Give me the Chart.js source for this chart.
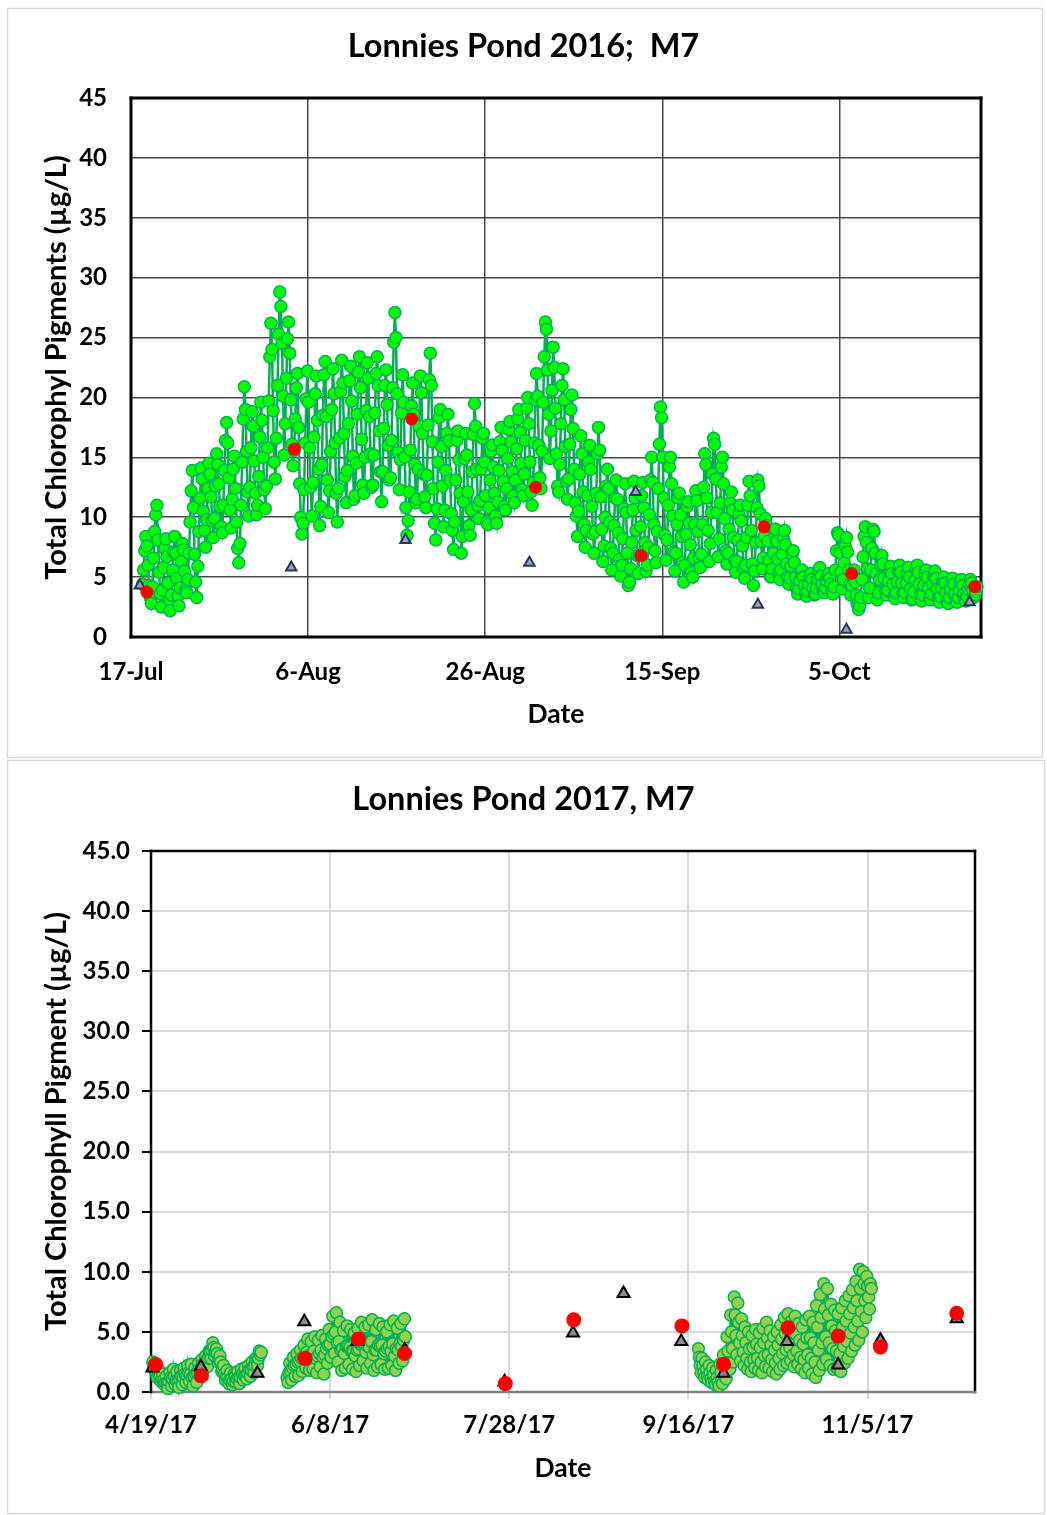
<!DOCTYPE html>
<html>
<head>
<meta charset="utf-8">
<script src="https://cdn.jsdelivr.net/npm/chart.js@4.4.1/dist/chart.umd.min.js"></script>
<style>
  html, body { margin: 0; padding: 0; background: #fff; }
  body { width: 1047px; height: 1515px; position: relative; overflow: hidden; }
  canvas { position: absolute; left: 0; }
  #c2016 { top: 0; }
  #c2017 { top: 759px; }
</style>
</head>
<body>
<canvas id="c2016" width="1047" height="759"></canvas>
<canvas id="c2017" width="1047" height="756"></canvas>
<script>
// ---- 2016 (x = days after 17-Jul) ----
const ticks2016 = ['17-Jul', '6-Aug', '26-Aug', '15-Sep', '5-Oct'];
const sondeStart2016 = 1.3;   // first sonde reading
const sondePerDay2016 = 8;    // readings per day (one row = one day)
const sonde2016 = [
  4.4, 5.6, 7.2, 8.4, 7.6, 6.0, 4.3, 3.3,
  2.8, 4.2, 6.6, 8.8, 10.2, 11.0, 8.1, 5.4,
  3.6, 2.5, 3.9, 5.8, 7.4, 8.2, 6.7, 4.5,
  3.1, 2.2, 3.5, 5.6, 7.1, 8.4, 7.0, 4.9,
  3.4, 2.6, 4.1, 6.3, 7.8, 7.3, 5.5, 3.9,
  3.7, 4.8, 7.0, 9.6, 12.2, 13.9, 10.8, 6.9,
  4.6, 3.3, 5.9, 8.8, 11.6, 14.1, 13.2, 10.5,
  8.9, 7.5, 9.8, 12.4, 14.5, 13.6, 11.7, 9.7,
  8.3, 9.9, 12.6, 15.3, 14.4, 12.8, 10.9, 9.2,
  8.7, 11.0, 13.9, 16.4, 17.9, 16.2, 13.3, 10.6,
  9.1, 11.5, 14.0, 15.1, 12.4, 9.6, 7.4, 6.2,
  7.8, 11.0, 14.6, 18.2, 20.9, 19.0, 15.5, 12.1,
  10.1, 12.5, 15.8, 18.8, 17.6, 14.7, 12.0, 10.2,
  11.0, 13.4, 16.7, 19.6, 18.1, 15.0, 12.3, 10.7,
  12.6, 15.8, 19.7, 23.4, 26.2, 24.0, 18.9, 14.6,
  13.2, 16.6, 21.0, 25.3, 28.8, 27.6, 24.5, 20.1,
  15.2, 17.8, 21.6, 24.9, 26.3, 23.7, 19.8, 16.1,
  14.3, 15.6, 18.2, 20.8, 22.0, 17.5, 12.8, 10.0,
  8.6, 9.5, 12.3, 16.2, 19.9, 22.2, 19.6, 15.8,
  12.5, 10.1, 12.9, 16.7, 20.3, 21.8, 18.1, 14.0,
  9.3, 10.9, 14.4, 18.5, 21.9, 23.0, 18.4, 13.1,
  10.4, 12.2, 15.5, 19.0, 22.4, 20.3, 16.2, 12.0,
  9.6, 12.4, 16.6, 20.5, 23.1, 21.2, 17.0, 13.4,
  11.2, 13.9, 17.8, 21.4, 22.6, 19.7, 15.1, 11.5,
  11.8, 14.5, 18.6, 22.1, 23.4, 20.8, 16.5, 12.7,
  12.0, 15.0, 18.9, 22.9, 21.6, 18.4, 15.3, 12.5,
  12.7, 15.2, 18.7, 22.0, 23.4, 21.0, 17.2, 13.8,
  11.3, 13.8, 17.4, 21.0, 22.3, 19.4, 16.0, 13.1,
  13.3, 16.4, 20.8, 24.6, 27.1, 25.0, 20.3, 15.4,
  12.3, 14.8, 18.7, 21.9, 19.6, 15.0, 10.8, 8.5,
  9.7, 12.1, 15.6, 19.3, 21.2, 18.6, 14.4, 11.2,
  11.5, 14.0, 17.6, 21.8, 20.4, 17.0, 13.6, 11.7,
  10.8, 13.5, 17.7, 21.5, 23.7, 21.0, 16.3, 12.4,
  9.5, 8.1, 10.7, 14.6, 18.3, 19.0, 15.9, 12.6,
  9.2, 10.6, 13.9, 17.0, 18.6, 16.4, 13.1, 10.3,
  8.9, 7.3, 9.6, 13.1, 16.4, 17.2, 14.8, 12.0,
  7.0, 8.4, 11.3, 14.9, 17.0, 15.2, 12.1, 9.3,
  8.5, 10.6, 13.8, 16.9, 19.5, 17.6, 14.0, 11.0,
  9.9, 11.4, 14.0, 16.6, 17.0, 14.6, 11.8, 9.6,
  9.4, 10.8, 13.1, 15.5, 16.0, 14.2, 12.0, 10.1,
  9.5, 11.3, 13.9, 16.3, 17.5, 15.6, 13.0, 10.9,
  10.6, 12.4, 14.9, 17.3, 18.0, 16.3, 13.8, 11.8,
  11.2, 13.1, 15.7, 18.2, 19.0, 17.1, 14.5, 12.3,
  11.8, 13.6, 16.4, 19.1, 20.0, 17.8, 14.6, 12.1,
  11.0, 12.9, 16.2, 19.8, 22.0, 20.1, 16.0, 13.3,
  12.4, 15.5, 19.6, 23.4, 26.3, 25.7, 22.3, 18.6,
  14.9, 17.2, 20.6, 24.2, 22.5, 19.1, 15.3, 12.6,
  12.1, 14.4, 17.8, 21.0, 22.4, 19.8, 15.9, 13.0,
  11.5, 13.2, 16.1, 19.0, 20.2, 17.4, 14.0, 11.2,
  10.1, 8.4, 10.5, 13.6, 16.8, 15.3, 12.1, 9.4,
  7.5, 8.9, 11.8, 14.6, 16.0, 14.0, 10.9, 8.6,
  7.0, 8.8, 12.0, 15.3, 17.5, 15.6, 11.7, 9.0,
  6.3, 7.6, 10.0, 12.6, 14.0, 12.4, 9.6, 7.4,
  5.6, 7.0, 9.3, 11.6, 13.1, 11.5, 8.7, 6.5,
  5.1, 6.0, 8.2, 10.7, 12.8, 10.4, 7.0, 4.3,
  4.6, 5.7, 7.9, 10.6, 13.0, 11.6, 8.9, 6.8,
  5.3, 6.8, 9.2, 11.8, 12.9, 10.8, 7.9, 5.5,
  6.0, 7.5, 10.2, 13.1, 15.0, 12.9, 9.4, 7.2,
  6.2, 8.8, 12.4, 16.1, 19.2, 18.3, 15.0, 11.6,
  8.5, 6.4, 8.1, 11.0, 14.2, 15.0, 12.8, 10.1,
  7.1, 5.5, 7.0, 9.4, 11.6, 12.0, 10.2, 8.4,
  6.2, 4.6, 6.0, 8.6, 10.9, 11.3, 9.5, 7.7,
  5.4, 5.0, 6.6, 9.4, 12.2, 11.4, 8.8, 6.6,
  5.8, 6.9, 9.4, 12.5, 15.3, 14.4, 11.6, 8.9,
  6.3, 7.8, 10.4, 13.6, 16.6, 16.1, 13.2, 10.4,
  6.7, 8.2, 11.2, 14.2, 15.0, 12.8, 9.9, 7.2,
  6.1, 7.0, 9.0, 11.2, 12.1, 10.6, 8.3, 6.4,
  5.4, 6.3, 8.1, 10.2, 11.0, 9.7, 7.6, 5.8,
  4.9, 6.0, 8.3, 11.0, 13.0, 11.8, 8.9, 6.1,
  4.3, 5.5, 7.9, 10.8, 13.1, 12.6, 10.3, 8.0,
  5.7, 6.6, 8.4, 9.9, 9.3, 8.0, 6.4, 5.1,
  5.0, 5.7, 7.0, 8.5, 9.0, 8.0, 6.5, 5.4,
  4.8, 5.6, 6.9, 8.2, 8.9, 7.7, 6.1, 5.0,
  4.4, 4.9, 5.9, 6.9, 7.2, 6.2, 5.0, 4.1,
  3.6, 4.0, 4.7, 5.4, 5.6, 5.0, 4.3, 3.7,
  3.4, 3.8, 4.4, 5.0, 5.3, 4.8, 4.1, 3.5,
  3.6, 4.1, 4.8, 5.5, 5.8, 5.1, 4.4, 3.8,
  3.7, 4.1, 4.7, 5.1, 5.3, 4.9, 4.4, 3.9,
  3.6, 4.2, 5.6, 7.2, 8.7, 8.5, 7.0, 5.4,
  4.0, 4.8, 6.2, 7.6, 8.3, 7.1, 5.6, 4.4,
  3.5, 4.3, 5.1, 5.6, 4.6, 3.5, 2.7, 2.3,
  2.6, 3.3, 4.8, 6.7, 8.4, 9.2, 7.9, 5.7,
  3.3, 4.1, 5.6, 7.4, 9.0, 8.8, 7.0, 5.3,
  3.1, 3.7, 4.8, 6.0, 6.8, 6.1, 4.9, 3.8,
  3.5, 3.9, 4.7, 5.5, 5.9, 5.3, 4.4, 3.4,
  3.2, 3.7, 4.6, 5.5, 6.0, 5.4, 4.5, 3.6,
  3.3, 3.7, 4.5, 5.3, 5.8, 5.0, 4.0, 3.1,
  3.2, 3.8, 4.8, 5.7, 6.0, 5.4, 4.4, 3.5,
  3.0, 3.5, 4.3, 5.2, 5.6, 5.0, 4.1, 3.3,
  3.1, 3.6, 4.4, 5.1, 5.5, 4.9, 4.0, 3.2,
  2.9, 3.4, 4.1, 4.7, 5.0, 4.5, 3.7, 3.0,
  2.8, 3.3, 4.0, 4.6, 4.9, 4.4, 3.6, 3.0,
  2.9, 3.3, 3.9, 4.5, 4.8, 4.3, 3.6, 3.1,
  3.0, 3.4, 4.0, 4.4, 4.8, 4.5, 3.9, 3.3,
  3.5, 3.8, 4.2
];
const labDays2016 = [1.8, 18.45, 31.7, 45.7, 57.6, 71.5, 81.4, 95.3];
const lab2016 = [3.75, 15.7, 18.2, 12.5, 6.8, 9.2, 5.3, 4.2];
const extDays2016 = [1.0, 18.1, 31.0, 45.0, 57.0, 70.8, 80.8, 94.7];
const ext2016 = [4.3, 5.8, 8.1, 6.2, 12.1, 2.7, 0.6, 2.9];

// ---- 2017 (x = days after 4/19/17) ----
const ticks2017 = ['4/19/17', '6/8/17', '7/28/17', '9/16/17', '11/5/17'];
const sondePerDay2017 = 4;
const springStart2017 = 0.5;
const spring2017 = [
  2.5, 2.2, 1.9, 1.7,  1.5, 1.2, 1.5, 1.8,  1.3, 0.9, 1.1, 1.5,  1.0, 0.6, 0.8, 1.3,
  0.8, 0.3, 0.9, 1.6,  1.2, 0.5, 1.1, 1.9,  1.3, 0.6, 1.0, 1.7,  1.0, 0.4, 1.1, 1.8,
  1.3, 0.6, 1.2, 2.0,  1.5, 0.8, 1.4, 2.2,  1.6, 0.9, 1.5, 2.3,  1.2, 0.5, 1.3, 2.0,
  1.5, 0.8, 1.6, 2.4,  1.9, 1.3, 2.0, 2.7,  2.3, 1.9, 2.5, 3.0,  2.6, 2.1, 2.8, 3.4,
  3.3, 2.8, 3.5, 4.1,  3.7, 3.0, 3.3, 3.6,  3.2, 2.5, 2.7, 3.0,  2.5, 1.7, 1.9, 2.2,
  1.5, 1.0, 1.3, 1.8,  1.2, 0.7, 1.0, 1.6,  1.1, 0.6, 0.9, 1.5,  1.3, 0.8, 1.1, 1.7,
  1.2, 0.7, 1.2, 1.9,  1.5, 1.0, 1.4, 2.0,  1.4, 1.1, 1.6, 2.2,  1.8, 1.3, 1.8, 2.5,
  2.1, 1.6, 2.2, 2.8,  2.6, 2.2, 2.8, 3.4,  3.1, 3.3
];
const summerStart2017 = 38;
const summer2017 = [
  1.2, 0.8, 1.6, 2.4,  1.7, 1.0, 2.0, 2.9,  2.2, 1.3, 2.3, 3.2,  2.5, 1.4, 2.6, 3.5,
  2.8, 1.7, 2.9, 3.9,  3.1, 2.0, 3.3, 4.4,  2.7, 1.8, 3.1, 4.2,  3.0, 1.9, 3.4, 4.6,
  2.8, 1.6, 3.0, 4.3,  3.2, 2.1, 3.5, 4.7,  2.9, 1.5, 3.1, 4.4,  3.6, 2.4, 3.9, 5.2,
  4.0, 2.9, 4.6, 6.3,  4.8, 3.2, 5.0, 6.6,  4.1, 2.5, 4.2, 5.8,  3.5, 1.8, 3.6, 5.1,
  3.2, 2.0, 3.8, 5.5,  3.8, 2.3, 3.7, 5.2,  3.4, 1.9, 3.4, 4.9,  3.0, 1.7, 3.5, 5.3,
  3.6, 2.2, 4.0, 5.8,  3.9, 2.6, 4.0, 5.4,  3.3, 2.0, 3.8, 5.6,  3.7, 2.4, 4.2, 6.0,
  3.1, 1.8, 3.5, 5.2,  3.5, 2.1, 3.9, 5.7,  3.8, 2.3, 3.9, 5.4,  3.2, 1.9, 3.4, 5.0,
  3.6, 2.0, 3.8, 5.6,  3.4, 2.2, 4.0, 5.9,  3.0, 1.8, 3.6, 5.3,  3.5, 2.4, 4.0, 5.7,
  3.8, 2.6, 4.3, 6.1,  4.6
];
const fallStart2017 = 152.8;
const fall2017 = [
  3.6, 2.9, 2.2, 1.6,  2.8, 2.2, 1.6, 1.2,  2.5, 1.9, 1.3, 1.0,  2.2, 1.6, 1.1, 0.8,
  2.0, 1.4, 0.9, 0.6,  1.8, 1.2, 0.8, 0.5,  2.3, 1.6, 1.0, 0.7,  3.1, 2.3, 1.5, 1.1,
  4.6, 3.4, 2.4, 1.9,  6.4, 5.0, 3.6, 2.5,  7.9, 6.4, 4.7, 3.1,  7.4, 5.8, 4.1, 2.6,
  6.1, 4.7, 3.3, 2.2,  5.4, 4.1, 2.8, 1.9,  5.0, 3.6, 2.5, 1.7,  4.7, 3.7, 2.7, 2.0,
  5.2, 4.0, 2.8, 1.8,  4.9, 3.7, 2.5, 1.6,  5.3, 4.1, 3.0, 2.1,  5.8, 4.5, 3.1, 2.0,
  5.1, 3.9, 2.7, 1.7,  4.6, 3.5, 2.4, 1.5,  5.0, 3.9, 2.8, 1.9,  5.6, 4.4, 3.2, 2.2,
  6.2, 4.9, 3.5, 2.4,  6.5, 5.1, 3.7, 2.6,  5.9, 4.5, 3.1, 2.1,  6.3, 4.8, 3.4, 2.3,
  5.7, 4.3, 2.9, 1.9,  5.4, 4.0, 2.7, 1.6,  6.0, 4.5, 3.1, 2.0,  6.3, 4.5, 2.8, 1.5,
  5.8, 4.1, 2.5, 1.2,  7.2, 5.4, 3.5, 1.8,  8.1, 6.2, 4.1, 2.3,  9.0, 6.9, 4.6, 2.7,
  8.6, 6.4, 4.1, 2.2,  7.3, 5.5, 3.6, 1.9,  6.8, 5.1, 3.4, 2.0,  6.5, 4.8, 3.2, 1.7,
  7.0, 5.4, 3.8, 2.4,  7.6, 5.9, 4.2, 2.8,  8.0, 6.5, 4.9, 3.4,  8.5, 7.0, 5.4, 3.9,
  9.2, 7.6, 5.9, 4.3,  10.2, 8.6, 6.7, 5.0,  10.0, 9.0, 7.6, 6.2,  9.6, 8.8, 7.9, 6.9,
  9.0, 8.6
];
const labDays2017 = [1.3, 14.1, 43.0, 57.9, 70.8, 98.9, 118.0, 148.2, 159.8, 177.8, 191.8, 203.6, 224.9];
const lab2017 = [2.3, 1.35, 2.8, 4.4, 3.2, 0.7, 6.0, 5.5, 2.3, 5.35, 4.65, 3.75, 6.55];
const extDays2017 = [0.4, 13.9, 29.7, 42.8, 57.6, 70.8, 98.7, 117.8, 131.9, 148.0, 159.8, 177.5, 191.8, 203.6, 224.9];
const ext2017 = [2.0, 2.1, 1.55, 5.85, 4.2, 3.5, 0.85, 4.9, 8.2, 4.2, 1.55, 4.2, 2.25, 4.3, 6.1];

// ---- helpers ----
function series(start, perDay, vals) {
  return vals.map((v, i) => ({ x: start + i / perDay, y: v }));
}
function pairs(xs, ys) {
  return xs.map((x, i) => ({ x: x, y: ys[i] }));
}
const gap = { x: null, y: null };

const FONT = 'Lato';
Chart.defaults.font.family = FONT;
Chart.defaults.color = '#000';

// light gray box round each chart + frame round the plot area
function framePlugin(panel, sides) {
  return {
    id: 'frame',
    beforeDraw(chart) {
      const c = chart.ctx;
      c.save();
      c.fillStyle = '#fff';
      c.fillRect(0, 0, chart.width, chart.height);
      c.strokeStyle = '#d9d9d9';
      c.lineWidth = 1.5;
      c.strokeRect(panel[0], panel[1], panel[2], panel[3]);
      c.restore();
    },
    beforeDatasetsDraw(chart) {
      const a = chart.chartArea, c = chart.ctx;
      c.save();
      c.lineCap = 'square';
      const seg = (x1, y1, x2, y2, col, w) => {
        c.strokeStyle = col; c.lineWidth = w;
        c.beginPath(); c.moveTo(x1, y1); c.lineTo(x2, y2); c.stroke();
      };
      seg(a.left, a.top, a.right, a.top, sides.top, sides.w);
      seg(a.right, a.top, a.right, a.bottom, sides.right, sides.w);
      seg(a.left, a.bottom, a.right, a.bottom, sides.bottom, sides.w);
      seg(a.left, a.top, a.left, a.bottom, sides.left, sides.w);
      c.restore();
    }
  };
}

function makeChart(id, cfg) {
  return new Chart(document.getElementById(id), {
    type: 'scatter',
    data: { datasets: cfg.datasets },
    options: {
      responsive: false,
      animation: false,
      events: [],
      devicePixelRatio: 1,
      layout: { padding: 0 },
      plugins: {
        legend: { display: false },
        tooltip: { enabled: false },
        title: {
          display: true,
          text: cfg.title,
          color: '#000',
          font: { family: FONT, size: 32.5, weight: 'bold', lineHeight: 1.2 },
          padding: { top: cfg.titleTop, bottom: cfg.titleBottom }
        }
      },
      scales: {
        x: {
          type: 'linear',
          min: 0,
          max: cfg.xMax,
          afterFit: s => { s.height = cfg.xHeight; },
          afterBuildTicks: s => { s.ticks = s.ticks.filter(t => t.value % cfg.xStep === 0); },
          ticks: {
            stepSize: cfg.xStep,
            autoSkip: false,
            maxRotation: 0,
            padding: cfg.xTickPad,
            font: { family: FONT, size: 24, weight: 'bold', lineHeight: 1.2 },
            callback: v => cfg.xLabels[Math.round(v / cfg.xStep)] || ''
          },
          grid: {
            color: cfg.gridColor,
            lineWidth: cfg.gridWidth,
            drawTicks: cfg.xTickLen > 0,
            tickLength: cfg.xTickLen,
            tickColor: cfg.gridColor
          },
          border: { display: false },
          title: {
            display: true,
            text: 'Date',
            font: { family: FONT, size: 26.5, weight: 'bold', lineHeight: 1.2 },
            padding: { top: 0, bottom: cfg.xTitlePad }
          }
        },
        y: {
          min: 0,
          max: 45,
          afterFit: s => { s.width = cfg.yWidth; },
          ticks: {
            stepSize: 5,
            padding: cfg.yTickPad,
            font: { family: FONT, size: 24, weight: 'bold', lineHeight: 1.2 },
            callback: v => cfg.yDecimals ? v.toFixed(1) : String(v)
          },
          grid: {
            color: cfg.gridColor,
            lineWidth: cfg.gridWidth,
            drawTicks: cfg.yTickLen > 0,
            tickLength: cfg.yTickLen,
            tickColor: '#000'
          },
          border: { display: false },
          title: {
            display: true,
            text: cfg.yTitle,
            font: { family: FONT, size: 29, weight: 'bold', lineHeight: 1.2 },
            padding: { top: 39.6, bottom: 0 }
          }
        },
        // empty right-hand strip so the title stays centred on the whole panel
        spacer: {
          type: 'linear',
          position: 'right',
          display: true,
          afterFit: s => { s.width = cfg.padRight; },
          ticks: { display: false },
          grid: { display: false },
          border: { display: false }
        }
      }
    },
    plugins: [framePlugin(cfg.panel, cfg.sides)]
  });
}

// ---- 2016 chart ----
makeChart('c2016', {
  title: 'Lonnies Pond 2016;  M7',
  yTitle: 'Total Chlorophyl Pigments (µg/L)',
  xLabels: ticks2016, xStep: 20, xMax: 96,
  padRight: 66, titleTop: 27.5, titleBottom: 31.5,
  xHeight: 122, yWidth: 131,
  xTickPad: 20.6, xTickLen: 0, yTickPad: 24, yTickLen: 0, yDecimals: false,
  xTitlePad: 29.1,
  gridColor: '#4a4a4a', gridWidth: 1.5,
  panel: [7.5, 8.5, 1035, 749],
  sides: { top: '#000', right: '#000', bottom: '#000', left: '#000', w: 3 },
  datasets: [
    { data: pairs(labDays2016, lab2016), pointRadius: 6.5, backgroundColor: '#ff0000', borderColor: '#ff0000', borderWidth: 0, clip: false },
    { data: pairs(extDays2016, ext2016), pointStyle: 'triangle', pointRadius: 6, backgroundColor: '#a5a5a5', borderColor: '#1f3864', borderWidth: 2, clip: false },
    { data: series(sondeStart2016, sondePerDay2016, sonde2016), showLine: true, borderColor: '#00b050', borderWidth: 2.5,
      pointRadius: 6, pointBackgroundColor: '#00ff00', pointBorderColor: '#00b050', pointBorderWidth: 1.5, clip: false }
  ]
});

// ---- 2017 chart ----
makeChart('c2017', {
  title: 'Lonnies Pond 2017, M7',
  yTitle: 'Total Chlorophyll Pigment (µg/L)',
  xLabels: ticks2017, xStep: 50, xMax: 230,
  padRight: 72, titleTop: 21.5, titleBottom: 31.5,
  xHeight: 123, yWidth: 151,
  xTickPad: 11.6, xTickLen: 7, yTickPad: 12, yTickLen: 9, yDecimals: true,
  xTitlePad: 31.1,
  gridColor: '#d9d9d9', gridWidth: 2,
  panel: [7.5, 1.5, 1037, 753],
  sides: { top: '#000', right: '#000', bottom: '#808080', left: '#000', w: 2.5 },
  datasets: [
    { data: pairs(labDays2017, lab2017), pointRadius: 7.5, backgroundColor: '#ff0000', borderColor: '#ff0000', borderWidth: 0, clip: false },
    { data: pairs(extDays2017, ext2017), pointStyle: 'triangle', pointRadius: 7, backgroundColor: '#8c8c8c', borderColor: '#000', borderWidth: 2, clip: false },
    { data: series(springStart2017, sondePerDay2017, spring2017)
        .concat([gap], series(summerStart2017, sondePerDay2017, summer2017))
        .concat([gap], series(fallStart2017, sondePerDay2017, fall2017)),
      showLine: true, spanGaps: false, borderColor: '#00b050', borderWidth: 2.5,
      pointRadius: 6, pointBackgroundColor: '#92d050', pointBorderColor: '#00b050', pointBorderWidth: 1.5, clip: false }
  ]
});
</script>
</body>
</html>
